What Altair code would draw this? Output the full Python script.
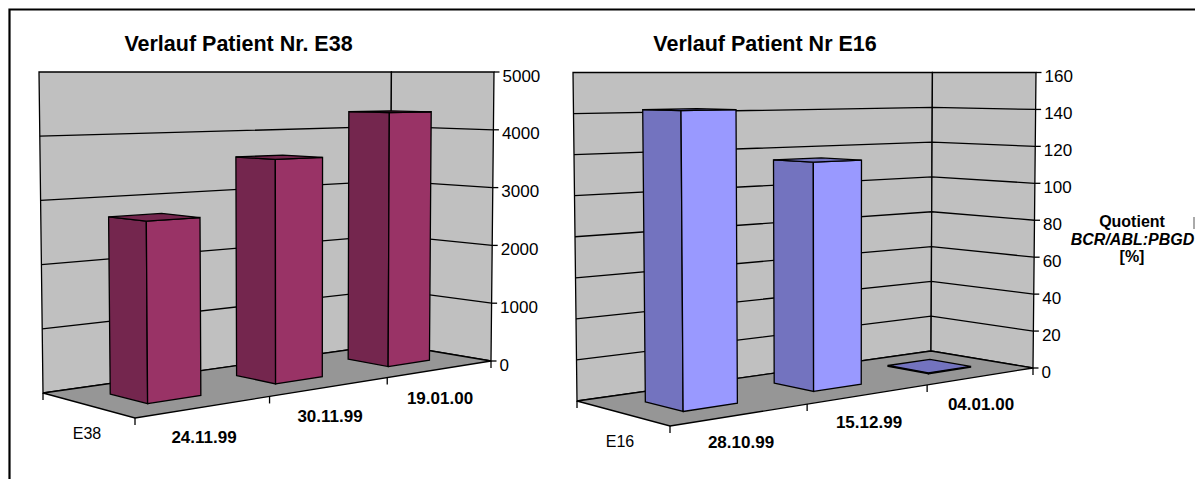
import altair as alt

# ---------- values ----------
left_title = "Verlauf Patient Nr. E38"
left_categories = ["24.11.99", "30.11.99", "19.01.00"]
left_values = [2750, 3600, 4310]
left_ticks = [0, 1000, 2000, 3000, 4000, 5000]
left_series = "E38"

right_title = "Verlauf Patient Nr E16"
right_categories = ["28.10.99", "15.12.99", "04.01.00"]
right_values = [142, 115, 0.5]
right_ticks = [0, 20, 40, 60, 80, 100, 120, 140, 160]
right_series = "E16"

axis_title = ["Quotient", "BCR/ABL:PBGD", "[%]"]

# ---------- 3-D view of each panel (image pixels) ----------
left_view = dict(front=(135, 418), right=(491, 361), back=(390, 344), rear=(43, 393),
                 top=72, slant_l=-4, slant_r=3, ymax=5000, gap=(0.3, 0.7),
                 title_xy=(238.5, 45), cat_xy=[(204, 438), (330, 417), (440, 399)], ser_xy=(87, 434),
                 colors=("#993366", "#74264E"))
right_view = dict(front=(670, 426), right=(1033, 368), back=(931, 351), rear=(577, 401),
                  top=72.5, slant_l=-4, slant_r=3, ymax=160, gap=(0.3, 0.7),
                  title_xy=(765, 45), cat_xy=[(741, 443), (869, 423), (981, 405)], ser_xy=(620, 442),
                  colors=("#9999FF", "#7373BF"))
WALL, FLOOR, INK = "#C0C0C0", "#969696", "#000000"


def homography(v):
    (x0, y0), (x1, y1), (x2, y2), (x3, y3) = v["front"], v["right"], v["back"], v["rear"]
    dx1, dx2, sx = x1 - x2, x3 - x2, x0 - x1 + x2 - x3
    dy1, dy2, sy = y1 - y2, y3 - y2, y0 - y1 + y2 - y3
    den = dx1 * dy2 - dx2 * dy1
    g = (sx * dy2 - dx2 * sy) / den
    h = (dx1 * sy - sx * dy1) / den
    a, b, c = x1 - x0 + g * x1, x3 - x0 + h * x3, x0
    d, e, f = y1 - y0 + g * y1, y3 - y0 + h * y3, y0

    def floor(u, w):
        q = g * u + h * w + 1
        return ((a * u + b * w + c) / q, (d * u + e * w + f) / q)
    return floor


def lift(v, p, frac):
    xl, xr = v["rear"][0], v["right"][0]
    dx = v["slant_l"] + (v["slant_r"] - v["slant_l"]) * (p[0] - xl) / (xr - xl)
    return (p[0] + dx * frac, p[1] + frac * (v["top"] - p[1]))


def poly(pts, fill):
    pts = [list(p) for p in pts]
    return {"type": "Feature", "properties": {"fill": fill},
            "geometry": {"type": "Polygon", "coordinates": [pts + [pts[0]]]}}


def seg(*pts):
    return {"type": "Feature", "properties": {},
            "geometry": {"type": "LineString", "coordinates": [list(p) for p in pts]}}


walls, grid, solids, ticks = [], [], [], []
tick_text, title_text, cat_text, ser_text = [], [], [], []


def build(v, title, cats, vals, tvals, series):
    fl = homography(v)
    fr, ri, ba, re = v["front"], v["right"], v["back"], v["rear"]
    walls.append(poly([re, ba, lift(v, ba, 1), lift(v, re, 1)], WALL))
    walls.append(poly([ba, ri, lift(v, ri, 1), lift(v, ba, 1)], WALL))
    for t in tvals[1:-1]:
        f = t / v["ymax"]
        grid.append(seg(lift(v, re, f), lift(v, ba, f), lift(v, ri, f)))
    solids.append(poly([fr, ri, ba, re], FLOOR))
    light, dark = v["colors"]
    for i, val in enumerate(vals):
        u0, u1 = (i + v["gap"][0]) / 3, (i + v["gap"][1]) / 3
        w0, w1 = 0.3, 0.7
        f = val / v["ymax"]
        a, b, c, d = fl(u0, w0), fl(u1, w0), fl(u1, w1), fl(u0, w1)
        ta, tb, tc, td = [lift(v, p, f) for p in (a, b, c, d)]
        solids.append(poly([d, a, ta, td], dark))
        solids.append(poly([a, b, tb, ta], light))
        solids.append(poly([ta, tb, tc, td], dark))
    # axis ticks
    for t in tvals:
        p = lift(v, ri, t / v["ymax"])
        ticks.append(seg(p, (p[0] + 5.5, p[1])))
        tick_text.append({"lon": p[0] + 8.5, "lat": p[1] + 4.5, "t": str(t)})
    for i in range(4):
        p = fl(i / 3, 0)
        ticks.append(seg(p, (p[0], p[1] + 7)))
    ticks.append(seg(re, (re[0], re[1] + 7)))
    title_text.append({"lon": v["title_xy"][0], "lat": v["title_xy"][1], "t": title})
    for (x, y), c in zip(v["cat_xy"], cats):
        cat_text.append({"lon": x, "lat": y, "t": c})
    ser_text.append({"lon": v["ser_xy"][0], "lat": v["ser_xy"][1], "t": series})


build(left_view, left_title, left_categories, left_values, left_ticks, left_series)
build(right_view, right_title, right_categories, right_values, right_ticks, right_series)

frame = [seg((9.5, 487), (9.5, 9.5), (1203, 9.5))]


def polys(feats):
    return alt.Chart(alt.Data(values=feats)).mark_geoshape(
        stroke=INK, strokeWidth=1.3, strokeJoin="miter").encode(
        fill=alt.Fill("properties.fill:N", scale=None))


def lines(feats, width=1.3):
    return alt.Chart(alt.Data(values=feats)).mark_geoshape(
        filled=False, fill=None, stroke=INK, strokeWidth=width)


def texts(rows, size, weight="normal", style="normal", align="center"):
    return alt.Chart(alt.Data(values=rows)).mark_text(
        font="Liberation Sans", fontSize=size, fontWeight=weight, fontStyle=style,
        align=align, baseline="middle", color="#000000").encode(
        longitude="lon:Q", latitude="lat:Q", text="t:N")


side_rows = [{"lon": 1132, "lat": 222, "t": axis_title[0]}, {"lon": 1132, "lat": 257, "t": axis_title[2]}]
side_italic = [{"lon": 1132.5, "lat": 240, "t": axis_title[1]}]
stray = [seg((1194, 217), (1194, 229))]

chart = alt.layer(
    polys(walls),
    lines(grid),
    polys(solids),
    lines(ticks),
    lines(frame, 2.2),
    alt.Chart(alt.Data(values=stray)).mark_geoshape(filled=False, fill=None, stroke="#555555", strokeWidth=1),
    texts(title_text, 21.5, "bold"),
    texts(cat_text, 17, "bold"),
    texts(ser_text, 16),
    texts(tick_text, 17, align="left"),
    texts(side_rows, 16, "bold"),
    texts(side_italic, 16, "bold", "italic"),
).project(type="identity", scale=1, translate=[-8, -8]).properties(
    width=1187, height=471, padding=0,
    autosize=alt.AutoSizeParams(type="none"),
    background="#FFFFFF",
).configure_view(stroke=None)

chart.save("out.html", embed_options={"renderer": "svg", "actions": False})
